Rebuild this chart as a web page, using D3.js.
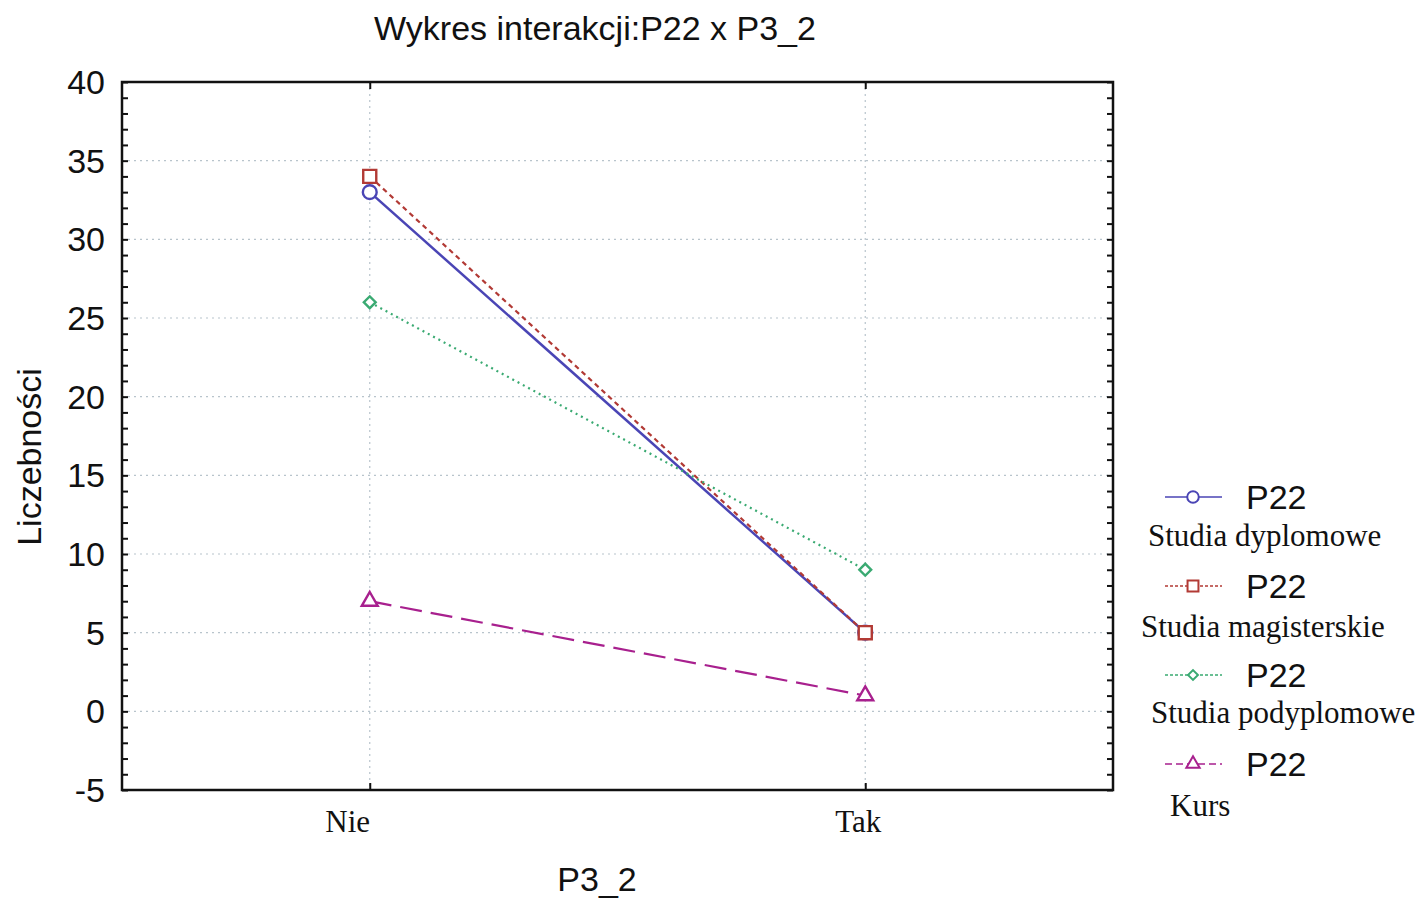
<!DOCTYPE html>
<html>
<head>
<meta charset="utf-8">
<script src="https://cdn.jsdelivr.net/npm/d3@7"></script>
<style>
  body { margin: 0; background: #fff; }
  text { fill: #111; }
</style>
</head>
<body>
<svg width="1417" height="898"></svg>
<script>
var categories = ["Nie", "Tak"];
var seriesNames = ["Studia dyplomowe", "Studia magisterskie", "Studia podyplomowe", "Kurs"];
var seriesValues = [
  [33, 5],
  [34, 5],
  [26, 9],
  [7, 1]
];
var yTicks = [-5, 0, 5, 10, 15, 20, 25, 30, 35, 40];

var colors = ["#4a45b5", "#b23a35", "#3aaa72", "#a8208e"];
var dashes = [null, "5,4", "2,4", "22,9"];
var symbols = [d3.symbolCircle, d3.symbolSquare, d3.symbolSquare, d3.symbolTriangle];
var symSize = [150, 170, 70, 110];
var symRot = [0, 0, 45, 0];

var svg = d3.select("svg");
var m = { left: 122, right: 1113, top: 82, bottom: 790 };
var sans = "Arial, 'Liberation Sans', sans-serif";
var serif = "'Liberation Serif', 'Times New Roman', serif";

var x = d3.scalePoint().domain(categories).range([m.left, m.right]).padding(0.5);
var y = d3.scaleLinear().domain([-5, 40]).range([m.bottom, m.top]);

// grid
svg.append("g").selectAll("line")
    .data(yTicks.slice(1, -1))
    .enter().append("line")
    .attr("x1", m.left).attr("x2", m.right)
    .attr("y1", function(d) { return y(d); })
    .attr("y2", function(d) { return y(d); })
    .attr("stroke", "#b8c4cc").attr("stroke-width", 1.2)
    .attr("stroke-dasharray", "2,4");
svg.append("g").selectAll("line")
    .data(categories)
    .enter().append("line")
    .attr("y1", m.top).attr("y2", m.bottom)
    .attr("x1", function(d) { return x(d); })
    .attr("x2", function(d) { return x(d); })
    .attr("stroke", "#b8c4cc").attr("stroke-width", 1.2)
    .attr("stroke-dasharray", "2,4");

// axes
var minor = d3.range(-5, 41);
var yl = svg.append("g").attr("transform", "translate(" + m.left + ",0)")
    .call(d3.axisRight(y).tickValues(minor).tickSize(6).tickFormat(""));
var yr = svg.append("g").attr("transform", "translate(" + m.right + ",0)")
    .call(d3.axisLeft(y).tickValues(minor).tickSize(6).tickFormat(""));
var xb = svg.append("g").attr("transform", "translate(0," + m.bottom + ")")
    .call(d3.axisTop(x).tickSize(7).tickFormat(""));
var xt = svg.append("g").attr("transform", "translate(0," + m.top + ")")
    .call(d3.axisBottom(x).tickSize(7).tickFormat(""));
[yl, yr, xb, xt].forEach(function(g) {
  g.select(".domain").remove();
  g.selectAll("line").attr("stroke", "#111").attr("stroke-width", 2);
});

svg.append("rect")
    .attr("x", m.left).attr("y", m.top)
    .attr("width", m.right - m.left).attr("height", m.bottom - m.top)
    .attr("fill", "none").attr("stroke", "#111").attr("stroke-width", 2.5);

svg.append("g").selectAll("text")
    .data(yTicks)
    .enter().append("text")
    .attr("x", 105)
    .attr("y", function(d) { return y(d) + 12; })
    .attr("text-anchor", "end")
    .style("font", "34px " + sans)
    .text(function(d) { return d; });

svg.append("g").selectAll("text")
    .data(categories)
    .enter().append("text")
    .attr("x", function(d, i) { return x(d) - (i === 0 ? 22 : 7); })
    .attr("y", m.bottom + 42)
    .attr("text-anchor", "middle")
    .style("font", "31px " + serif)
    .text(function(d) { return d; });

// titles
svg.append("text").attr("x", 595).attr("y", 40).attr("text-anchor", "middle")
    .style("font", "34px " + sans)
    .text("Wykres interakcji:P22 x P3_2");
svg.append("text").attr("x", 597).attr("y", 891).attr("text-anchor", "middle")
    .style("font", "34px " + sans)
    .text("P3_2");
svg.append("text")
    .attr("transform", "translate(41,457) rotate(-90)")
    .attr("text-anchor", "middle")
    .style("font", "34px " + sans)
    .text("Liczebności");

// series
var line = d3.line()
    .x(function(d, i) { return x(categories[i]); })
    .y(function(d) { return y(d); });

seriesValues.forEach(function(vals, s) {
  svg.append("path")
      .datum(vals)
      .attr("d", line)
      .attr("fill", "none")
      .attr("stroke", colors[s])
      .attr("stroke-width", s === 0 ? 2.5 : 2.2)
      .attr("stroke-dasharray", dashes[s]);
  svg.append("g").selectAll("path")
      .data(vals)
      .enter().append("path")
      .attr("transform", function(d, i) {
        return "translate(" + x(categories[i]) + "," + y(d) + ") rotate(" + symRot[s] + ")";
      })
      .attr("d", d3.symbol().type(symbols[s]).size(symSize[s]))
      .attr("fill", "#fff")
      .attr("stroke", colors[s])
      .attr("stroke-width", 2.4);
});

// legend
var lg = svg.append("g").selectAll("g")
    .data(seriesNames)
    .enter().append("g")
    .attr("transform", function(d, i) { return "translate(0," + (497 + i * 89) + ")"; });
lg.append("line")
    .attr("x1", 1165).attr("x2", 1222)
    .attr("stroke", function(d, i) { return colors[i]; })
    .attr("stroke-width", 1.6)
    .attr("stroke-dasharray", function(d, i) { return i === 3 ? "7,4" : (i === 0 ? null : "3,2"); });
lg.append("path")
    .attr("transform", function(d, i) { return "translate(1193,0) rotate(" + symRot[i] + ")"; })
    .attr("d", function(d, i) { return d3.symbol().type(symbols[i]).size(symSize[i] * 0.7)(); })
    .attr("fill", "#fff")
    .attr("stroke", function(d, i) { return colors[i]; })
    .attr("stroke-width", 2);
lg.append("text")
    .attr("x", 1246).attr("y", 12)
    .style("font", "34px " + sans)
    .text("P22");
lg.append("text")
    .attr("x", function(d, i) { return [1148, 1141, 1151, 1170][i]; })
    .attr("y", function(d, i) { return [49, 51, 48, 52][i]; })
    .style("font", "31px " + serif)
    .text(function(d) { return d; });
</script>
</body>
</html>
